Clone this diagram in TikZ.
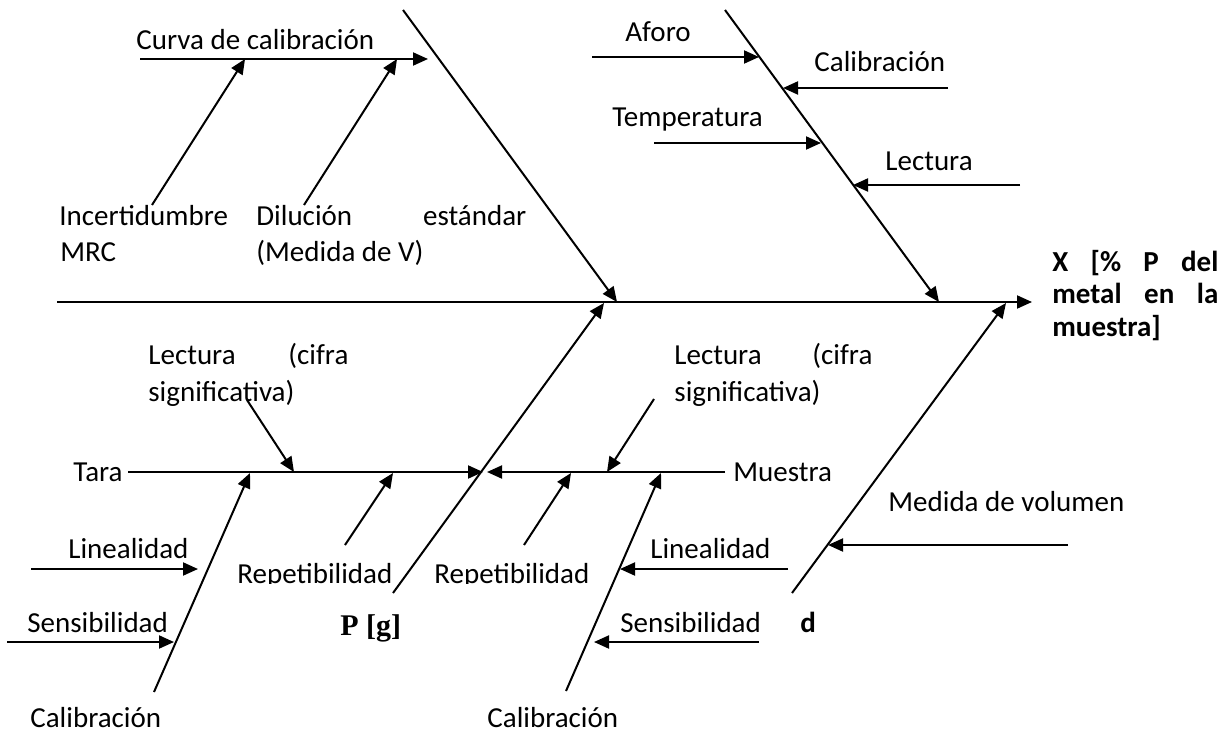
\documentclass[tikz,border=0pt]{standalone}
\usepackage{fontspec}
\setmainfont{Carlito}
\newfontfamily\timesbf{Liberation Serif}
\usetikzlibrary{arrows.meta}
\tikzset{
  bone/.style={line width=1pt, -{Triangle[length=7.5pt,width=6.5pt]}},
  plain/.style={line width=1pt},
  lbl/.style={inner sep=0pt, font=\fontsize{14.5pt}{17pt}\selectfont, anchor=base west},
  lblr/.style={inner sep=0pt, font=\fontsize{14.5pt}{17pt}\selectfont, anchor=base east},
  lblb/.style={inner sep=0pt, font=\fontsize{14.5pt}{17pt}\selectfont\bfseries, anchor=base west},
}
\begin{document}
\begin{tikzpicture}[x=0.5pt,y=-0.5pt]
\useasboundingbox (0,0) rectangle (1229,732);
% coordinates
\coordinate (s0) at (57,302);   \coordinate (s1) at (1032,302);
\coordinate (ul0) at (403,10);  \coordinate (ul1) at (617,302);
\coordinate (ur0) at (725,10);  \coordinate (ur1) at (939,302);
\coordinate (pl0) at (393,593); \coordinate (pl1) at (604,303);
\coordinate (dl0) at (792,593); \coordinate (dl1) at (1006,303);
\coordinate (c0) at (140,59);   \coordinate (c1) at (428,59);
\coordinate (i0) at (152,205);  \coordinate (i1) at (245,59);
\coordinate (di0) at (304,205); \coordinate (di1) at (397,59);
\coordinate (a0) at (592,57);   \coordinate (a1) at (759,57);
\coordinate (cb0) at (948,88);  \coordinate (cb1) at (783,88);
\coordinate (t0) at (654,143);  \coordinate (t1) at (821,143);
\coordinate (l0) at (1020,185); \coordinate (l1) at (853,185);
\coordinate (ta0) at (128,472); \coordinate (ta1) at (483,472);
\coordinate (m0) at (725,472);  \coordinate (m1) at (487,472);
\coordinate (ll0) at (247,400); \coordinate (ll1) at (294,472);
\coordinate (cl0) at (154,692); \coordinate (cl1) at (250,473);
\coordinate (li0) at (31,569);  \coordinate (li1) at (198,569);
\coordinate (se0) at (7,642);   \coordinate (se1) at (174,642);
\coordinate (r0) at (345,545);  \coordinate (r1) at (393,473);
\coordinate (rr0) at (524,545); \coordinate (rr1) at (571,473);
\coordinate (lr0) at (654,399); \coordinate (lr1) at (607,472);
\coordinate (cr0) at (566,691); \coordinate (cr1) at (661,473);
\coordinate (lir0) at (788,569);\coordinate (lir1) at (620,569);
\coordinate (ser0) at (759,642);\coordinate (ser1) at (594,642);
\coordinate (mv0) at (1068,545);\coordinate (mv1) at (828,545);
% connectors
\draw[bone] (s0) -- (s1);
\draw[bone] (ul0) -- (ul1);
\draw[bone] (ur0) -- (ur1);
\draw[bone] (pl0) -- (pl1);
\draw[bone] (dl0) -- (dl1);
\draw[bone] (c0) -- (c1);
\draw[bone] (i0) -- (i1);
\draw[bone] (di0) -- (di1);
\draw[bone] (a0) -- (a1);
\draw[bone] (cb0) -- (cb1);
\draw[bone] (t0) -- (t1);
\draw[bone] (l0) -- (l1);
\draw[bone] (ta0) -- (ta1);
\draw[bone] (m0) -- (m1);
\draw[bone] (ll0) -- (ll1);
\draw[bone] (cl0) -- (cl1);
\draw[bone] (li0) -- (li1);
\draw[bone] (se0) -- (se1);
\draw[bone] (r0) -- (r1);
\draw[bone] (rr0) -- (rr1);
\draw[bone] (lr0) -- (lr1);
\draw[bone] (cr0) -- (cr1);
\draw[bone] (lir0) -- (lir1);
\draw[bone] (ser0) -- (ser1);
\draw[bone] (mv0) -- (mv1);
% labels
\node[lbl] (tcurva) at (136,50) {Curva de calibración};
\node[lbl] (tinc) at (59,226) {Incertidumbre};
\node[lbl] (tmrc) at (60,262) {MRC};
\node[lbl] (tdil) at (256,226) {\makebox[135pt][s]{Dilución estándar}};
\node[lbl] (tmed) at (256,262) {(Medida de V)};
\node[lbl] (taforo) at (625,42) {Aforo};
\node[lbl] (tcal1) at (814,72) {Calibración};
\node[lbl] (ttemp) at (612,127) {Temperatura};
\node[lbl] (tlec1) at (885,171) {Lectura};
\node[lblb] (tx1) at (1052,271) {\makebox[83pt][s]{X [\% P del}};
\node[lblb] (tx2) at (1052,304) {\makebox[83pt][s]{metal en la}};
\node[lblb] (tx3) at (1052,336) {muestra]};
\node[lbl] (tlec2a) at (148,364) {\makebox[100pt][s]{Lectura (cifra}};
\node[lbl] (tlec2b) at (148,401) {significativa)};
\node[lbl] (tlec3a) at (674,364) {\makebox[99pt][s]{Lectura (cifra}};
\node[lbl] (tlec3b) at (674,401) {significativa)};
\node[lblr] (ttara) at (123,481) {Tara};
\node[lbl] (tmue) at (733,481) {Muestra};
\node[lbl] (tvol) at (888,511) {Medida de volumen};
\node[lbl] (tlin1) at (68,558) {Linealidad};
\node[lbl] (tlin2) at (650,558) {Linealidad};
\begin{scope}
\clip (220,530) rectangle (620,583.5);
\node[lbl] (trep1) at (237,583) {Repetibilidad};
\node[lbl] (trep2) at (434,583) {Repetibilidad};
\end{scope}
\node[lbl] (tsen1) at (27,632) {Sensibilidad};
\node[lbl] (tsen2) at (620,632) {Sensibilidad};
\node[inner sep=0pt, anchor=base west, font=\fontsize{15pt}{17pt}\timesbf\bfseries] (tpg) at (340,635) {P [g]};
\node[lblb] (td) at (800,632) {d};
\node[lbl] (tcal2) at (30,727) {Calibración};
\node[lbl] (tcal3) at (487,727) {Calibración};
\end{tikzpicture}
\end{document}
